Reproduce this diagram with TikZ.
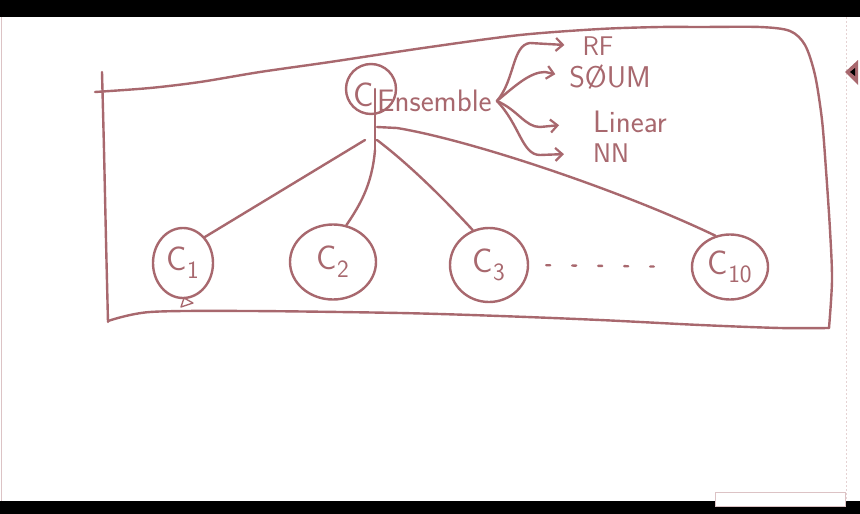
\documentclass[tikz,border=0pt]{standalone}
\usepackage{tikz}
\usetikzlibrary{shapes.geometric,arrows.meta,calc}
\definecolor{ink}{RGB}{168,104,110}

\tikzset{
pen/.style={draw=ink,line width=2.4pt,line cap=round,line join=round},
cls/.style={pen,ellipse,inner sep=0pt,text=ink,font=\sffamily\fontsize{34}{36}\selectfont},
lbl/.style={inner sep=0pt,text=ink,font=\sffamily\fontsize{30}{32}\selectfont},
tip/.style={-{Straight Barb[length=7pt,width=13pt,line width=2.2pt]}}
}

\begin{document}
\begin{tikzpicture}[x=1pt,y=-1pt]

\useasboundingbox (0,0) rectangle (860,514);
\fill[white] (0,0) rectangle (860,514);
\fill[black] (0,0) rectangle (860,17);
\fill[black] (0,501) rectangle (860,514);
\draw[ink!40,line width=1pt] (1,17) -- (1,501);
\draw[ink!30,line width=0.8pt,dash pattern=on 2pt off 2pt] (846,17) -- (846,501);
\draw[ink!40,fill=white,line width=0.8pt] (715,492) rectangle (845,506);

% frame
\draw[pen] plot[smooth] coordinates {(102,72) (104,150) (106,240) (108,322)};
\draw[pen] plot[smooth] coordinates {(95,92) (150,88) (200,82) (260,72) (330,62) (430,47) (520,35) (600,29) (660,27) (700,27) (760,27) (790,31) (805,45) (815,75) (822,120) (826,170) (830,230) (832,280) (829,328)};
\draw[pen] plot[smooth] coordinates {(829,328) (780,328) (700,325) (600,320) (500,316) (400,313) (250,311) (150,312) (108,321)};

% top
\node[pen,circle,minimum size=50pt,inner sep=0pt] (ring) at (371,89) {};
\node[lbl,font=\sffamily\fontsize{34}{36}\selectfont] (cc) at (364,95) {C};
\node[lbl,anchor=west,font=\sffamily\fontsize{31}{33}\selectfont] (ens) at (377,101) {Ensemble};
\coordinate (fork) at ($(ens.east)+(5,0)$);

\node[lbl,font=\sffamily\fontsize{27}{29}\selectfont] (rf) at (598,46) {RF};
\node[lbl] (svm) at (610,77) {S\O UM};
\node[lbl,font=\sffamily\fontsize{31}{33}\selectfont] (lin) at (630,122) {Linear};
\node[lbl,font=\sffamily\fontsize{27}{29}\selectfont] (nn) at (611,153) {NN};

\draw[pen,tip,shorten >=18pt] (fork) .. controls (515,80) and (512,45) .. (530,43) -- (rf.west);
\draw[pen,tip,shorten >=14pt] (fork) .. controls (515,86) and (530,72) .. (545,72) -- (svm.west);
\draw[pen,tip,shorten >=34pt] (fork) .. controls (518,110) and (525,127) .. (540,127) -- (lin.west);
\draw[pen,tip,shorten >=29pt] (fork) .. controls (520,125) and (522,155) .. (540,155) -- (nn.west);

% classifiers
\node[cls,minimum width=60pt,minimum height=70pt] (c1) at (183,263) {C$_\mathsf{1}$};
\node[cls,minimum width=86pt,minimum height=75pt] (c2) at (333,262) {C$_\mathsf{2}$};
\node[cls,minimum width=78pt,minimum height=74pt] (c3) at (489,265) {C$_\mathsf{3}$};
\node[cls,minimum width=76pt,minimum height=65pt] (c10) at (730,267) {C$_\mathsf{10}$};

\coordinate (hub) at (377,127);
\coordinate (stem) at (375,150);
\coordinate (lft) at (365,140);
\coordinate (rgt) at (377,140);

\draw[pen] (ring.center -| stem) -- (stem);
\draw[pen] (lft) -- (c1.50);
\draw[pen] (stem) .. controls (372,185) and (360,205) .. (c2.70);
\draw[pen] (rgt) .. controls (410,165) and (445,200) .. (c3.115);
\draw[pen] (hub) -- ++(20,1) .. controls (470,140) and (620,190) .. (c10.115);
\draw[pen,dash pattern=on 4pt off 22pt,shorten <=17pt,shorten >=37pt] (c3.east) -- (c10.west);

% marks
\draw[ink,line width=1.3pt,line join=round] (181,307) -- (184,298) -- (193,303) -- cycle;
\fill[ink] (845,72) -- (858,60) -- (858,85) -- cycle;
\fill[black] (850,72) -- (855,68) -- (855,76) -- cycle;

\end{tikzpicture}
\end{document}
